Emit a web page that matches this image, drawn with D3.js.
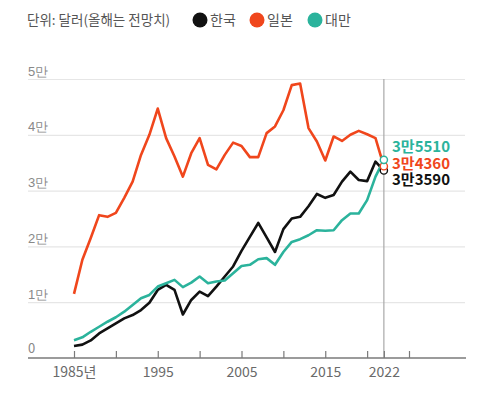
<!DOCTYPE html>
<html>
<head>
<meta charset="utf-8">
<script src="https://cdn.jsdelivr.net/npm/d3@7"></script>
<style>
  body { margin: 0; background: #fff; }
  svg { display: block; font-family: "Noto Sans CJK KR", "Noto Sans", sans-serif; }
</style>
</head>
<body>
<svg id="chart" width="483" height="397"></svg>
<script>
// 1985 ~ 2022, 1인당 GDP (달러)
const years = d3.range(1985, 2023);

const korea = [2150, 2400, 3150, 4400, 5300, 6200, 7100, 7700, 8600, 9900,
  12200, 13100, 12200, 7800, 10400, 11900, 11100, 12800, 14600, 16400,
  19200, 21700, 24200, 21600, 19000, 23100, 25000, 25300, 27200, 29400,
  28700, 29200, 31600, 33400, 31900, 31700, 35200, 33590];

const japan = [11500, 17600, 21500, 25600, 25300, 26000, 28700, 31600, 36400, 40000,
  44700, 39400, 36100, 32500, 36700, 39400, 34600, 33800, 36400, 38600,
  38000, 36000, 36000, 40300, 41500, 44400, 48900, 49200, 41200, 38800,
  35400, 39700, 38900, 40000, 40700, 40100, 39400, 34360];

const taiwan = [3200, 3700, 4700, 5600, 6500, 7300, 8300, 9500, 10700, 11300,
  12800, 13400, 14000, 12700, 13500, 14600, 13400, 13700, 13900, 15200,
  16500, 16700, 17700, 17900, 16700, 19000, 20800, 21300, 22000, 22900,
  22800, 22900, 24700, 25900, 25900, 28300, 32500, 35510];

const yTicks = [0, 10000, 20000, 30000, 40000, 50000];
const yTickLabels = ["0", "1만", "2만", "3만", "4만", "5만"];
const xTicks = [1985, 1990, 1995, 2000, 2005, 2010, 2015, 2020, 2022, 2025];
const xTickLabels = { 1985: "1985년", 1995: "1995", 2005: "2005", 2015: "2015", 2022: "2022" };

const series = [
  { name: "한국", values: korea, color: "#111111", label: "3만3590" },
  { name: "일본", values: japan, color: "#f0461c", label: "3만4360" },
  { name: "대만", values: taiwan, color: "#2bb39c", label: "3만5510" }
];

const svg = d3.select("#chart");

const x = d3.scaleLinear().domain([1985, 2025]).range([74, 409]);
const y = d3.scaleLinear().domain([0, 50000]).range([358, 79]);

const left = 28, right = 466;

// gridlines + y labels
const yAxis = svg.append("g")
  .attr("transform", `translate(${left},0)`)
  .call(d3.axisRight(y)
    .tickValues(yTicks.slice(1))
    .tickSize(right - left - 1)
    .tickFormat((d, i) => yTickLabels[i + 1]))
  .call(g => g.select(".domain").remove());

yAxis.selectAll(".tick line").attr("stroke", "#e6e6e6").attr("stroke-width", 1.2);
yAxis.selectAll(".tick text")
  .attr("x", 0)
  .attr("dy", -4)
  .attr("text-anchor", "start")
  .attr("fill", "#888")
  .style("font-size", "13px");

svg.append("text")
  .attr("x", left)
  .attr("y", y(0) - 5)
  .attr("fill", "#888")
  .style("font-size", "13px")
  .text(yTickLabels[0]);

// 2022 reference line
svg.append("line")
  .attr("x1", x(2022)).attr("x2", x(2022))
  .attr("y1", y(50000)).attr("y2", y(0))
  .attr("stroke", "#a8a8a8")
  .attr("stroke-width", 1.2);

// x axis
const xAxis = svg.append("g")
  .attr("transform", `translate(0,${y(0)})`)
  .call(d3.axisBottom(x)
    .tickValues(xTicks)
    .tickSizeInner(-7)
    .tickSizeOuter(0)
    .tickPadding(9)
    .tickFormat(d => xTickLabels[d] || ""));

xAxis.select(".domain")
  .attr("d", `M${left},0H${right}`)
  .attr("stroke", "#7a7a7a")
  .attr("stroke-width", 1.5);
xAxis.selectAll(".tick line").attr("stroke", "#7a7a7a").attr("stroke-width", 1.2);
xAxis.selectAll(".tick text")
  .attr("fill", "#6a6a6a")
  .style("font-size", "14px")
  .style("font-family", "\"Noto Sans CJK KR\", sans-serif");

// lines
const line = d3.line()
  .x((d, i) => x(years[i]))
  .y(d => y(d));

svg.selectAll(".series")
  .data(series)
  .join("path")
  .attr("class", "series")
  .attr("d", d => line(d.values))
  .attr("fill", "none")
  .attr("stroke", d => d.color)
  .attr("stroke-width", 2.6)
  .attr("stroke-linejoin", "round");

// end markers
svg.selectAll(".end")
  .data(series)
  .join("circle")
  .attr("class", "end")
  .attr("cx", x(2022))
  .attr("cy", d => y(d.values[d.values.length - 1]))
  .attr("r", 3.6)
  .attr("fill", "#fff")
  .attr("stroke", d => d.color)
  .attr("stroke-width", 1.4);

// end labels (top to bottom: 대만, 일본, 한국)
const endOrder = [series[2], series[1], series[0]];
svg.selectAll(".endlabel")
  .data(endOrder)
  .join("text")
  .attr("class", "endlabel")
  .attr("x", 392)
  .attr("y", (d, i) => 152 + i * 16.5)
  .attr("fill", d => d.color)
  .style("font-size", "15px")
  .style("font-weight", "bold")
  .text(d => d.label);

// legend
svg.append("text")
  .attr("x", 27)
  .attr("y", 25)
  .attr("fill", "#555")
  .style("font-size", "13.5px")
  .text("단위: 달러(올해는 전망치)");

const legendX = [200, 257, 315];
const legend = svg.selectAll(".legend")
  .data(series)
  .join("g")
  .attr("class", "legend")
  .attr("transform", (d, i) => `translate(${legendX[i]},20)`);

legend.append("circle")
  .attr("r", 7.5)
  .attr("fill", d => d.color);

legend.append("text")
  .attr("x", 10)
  .attr("y", 5)
  .attr("fill", "#555")
  .style("font-size", "14px")
  .text(d => d.name);
</script>
</body>
</html>
